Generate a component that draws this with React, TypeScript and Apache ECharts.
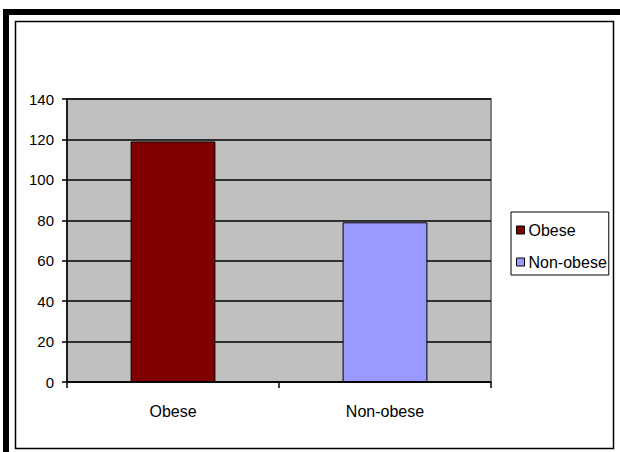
import React, { useEffect, useRef } from "react";
import * as echarts from "echarts";

const categories = ["Obese", "Non-obese"];
const seriesNames = ["Obese", "Non-obese"];
const obeseValues: (number | string)[] = [119, "-"];
const nonObeseValues: (number | string)[] = ["-", 79];
const yTicks = { min: 0, max: 140, interval: 20 };

const FONT = "'Liberation Sans', Arial, sans-serif";

export default function App() {
  const ref = useRef<HTMLDivElement>(null);
  useEffect(() => {
    document.body.style.margin = "0";
    const chart = echarts.init(ref.current!, null, { renderer: "svg" });
    chart.setOption({
      animation: false,
      backgroundColor: "#ffffff",
      textStyle: { fontFamily: FONT },
      graphic: [
        { type: "rect", z: -10, shape: { x: 3, y: 9, width: 620, height: 450 }, style: { fill: "#000" }, silent: true },
        { type: "rect", z: -9, shape: { x: 9, y: 15, width: 620, height: 450 }, style: { fill: "#fff" }, silent: true },
        { type: "rect", z: -8, shape: { x: 15.5, y: 21.5, width: 598, height: 427 }, style: { fill: "#fff", stroke: "#000", lineWidth: 1.5 }, silent: true },
      ],
      grid: {
        left: 67,
        top: 99,
        right: 129,
        bottom: 70,
        show: true,
        backgroundColor: "#C0C0C0",
        borderColor: "#808080",
        borderWidth: 2,
        z: 0,
      },
      legend: {
        orient: "vertical",
        left: 511,
        top: 212,
        width: 97,
        data: seriesNames,
        icon: "rect",
        itemWidth: 8,
        itemHeight: 8,
        itemGap: 16,
        padding: [10, 2, 5, 5],
        borderColor: "#000",
        borderWidth: 1,
        backgroundColor: "#fff",
        textStyle: { fontSize: 16, color: "#000", fontFamily: FONT, padding: [0, 0, 0, -1] },
        itemStyle: { borderColor: "#000", borderWidth: 1 },
      },
      xAxis: {
        type: "category",
        data: categories,
        axisLine: { lineStyle: { color: "#000", width: 1.5 } },
        axisTick: { show: true, length: 6, lineStyle: { color: "#000", width: 1.5 } },
        axisLabel: { color: "#000", fontSize: 16, margin: 21, fontFamily: FONT },
        splitLine: { show: false },
      },
      yAxis: {
        type: "value",
        min: yTicks.min,
        max: yTicks.max,
        interval: yTicks.interval,
        axisLine: { show: true, lineStyle: { color: "#000", width: 1.5 } },
        axisTick: { show: true, length: 5, lineStyle: { color: "#000", width: 1.5 } },
        axisLabel: { color: "#000", fontSize: 15, margin: 13, fontFamily: FONT },
        splitLine: { show: true, lineStyle: { color: "#000", width: 1.5 } },
      },
      series: [
        {
          name: seriesNames[0],
          type: "bar",
          stack: "all",
          data: obeseValues,
          barWidth: "40%",
          itemStyle: { color: "#800000", borderColor: "#000", borderWidth: 1 },
        },
        {
          name: seriesNames[1],
          type: "bar",
          stack: "all",
          data: nonObeseValues,
          barWidth: "40%",
          itemStyle: { color: "#9999FF", borderColor: "#000", borderWidth: 1 },
        },
      ],
    });
    return () => chart.dispose();
  }, []);
  return <div ref={ref} style={{ width: 620, height: 452 }} />;
}
